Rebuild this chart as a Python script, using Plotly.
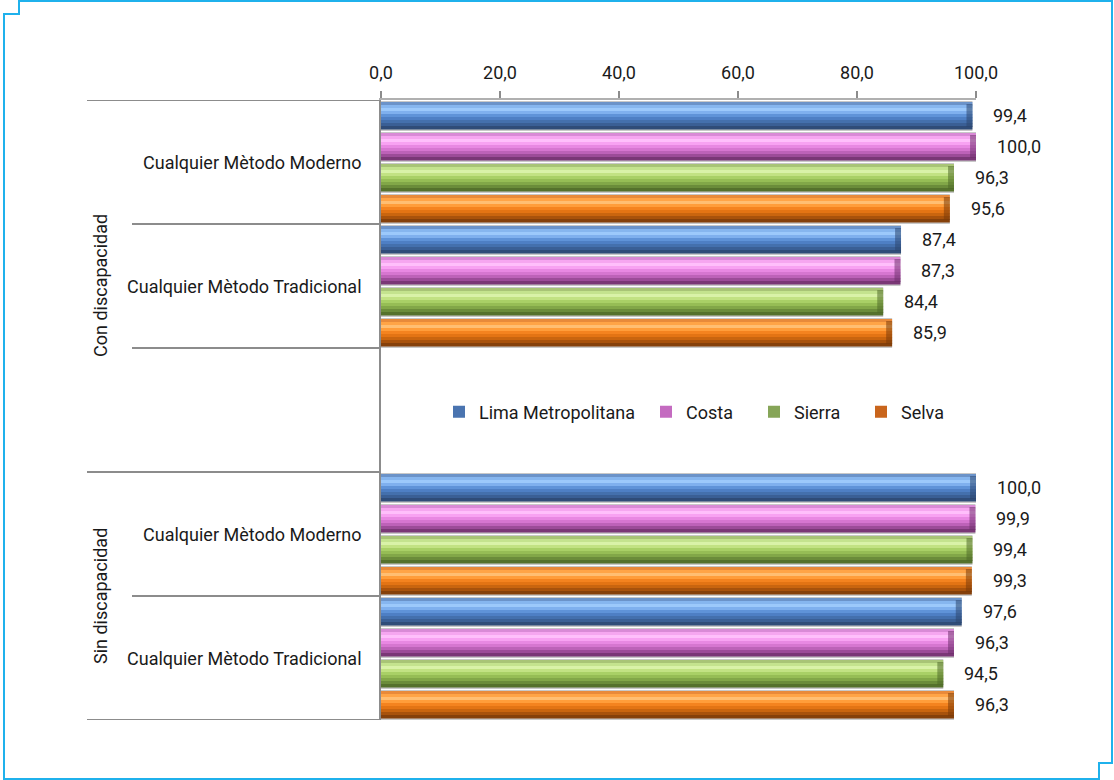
import plotly.graph_objects as go

# ---------------- data ----------------
categories = ["Cualquier Mètodo Moderno", "Cualquier Mètodo Tradicional", "",
              "Cualquier Mètodo Moderno", "Cualquier Mètodo Tradicional"]
groups = ["Con discapacidad", "Sin discapacidad"]
group_spans = [(0, 2), (3, 4)]          # category index ranges per group
bar_cats = [0, 1, 3, 4]                 # categories that hold bars

series_names = ["Lima Metropolitana", "Costa", "Sierra", "Selva"]
lima = [99.4, 87.4, 100.0, 97.6]
costa = [100.0, 87.3, 99.9, 96.3]
sierra = [96.3, 84.4, 99.4, 94.5]
selva = [95.6, 85.9, 99.3, 96.3]
series_values = [lima, costa, sierra, selva]

x_ticks = [0, 20, 40, 60, 80, 100]

# ---------------- styling ----------------
FONT = "Roboto, Liberation Sans, Arial, sans-serif"
FS = 18
TXT = "#1a1a1a"
GRAY = "#8c8c8c"
# gradient stops for each series, top -> bottom of the bar
gradients = [
    ["#6b93c9", "#86b6ef", "#9cc9fb", "#7fb0ee", "#5f93d8", "#4e7fc4", "#4470ad", "#3a5f95", "#2f4c78"],
    ["#d98ad6", "#f6a6f0", "#ffbffb", "#f8a2f2", "#e888e2", "#d676d0", "#bd62b8", "#9c4c98", "#7a3776"],
    ["#a8c476", "#c4e38e", "#d9f2a8", "#c2e283", "#a9d066", "#96bd55", "#82a748", "#6b8c3a", "#55712c"],
    ["#e88a3a", "#ffa446", "#ffbe72", "#ff9d3a", "#f4831f", "#e37414", "#c9650f", "#a8520c", "#85400a"],
]
legend_colors = ["#4a74b0", "#c46bc0", "#86a558", "#c9651c"]
cap_colors = ["#2c456d", "#6e2f6b", "#4f6a28", "#7a3a0a"]

W, H = 1114, 780
L, R, T, B = 381, 976, 100, 720
PW, PH = R - L, B - T
UNIT = PH / len(categories)       # px per category
SLOT = UNIT / 4                   # px per series bar slot
BAR = 27                          # bar thickness px
PAD = 2                           # px from slot top to bar top


def px2u(p):
    return p / UNIT


def px_x(p):
    return (p - L) / PW


def px_y(p):
    return (B - p) / PH


fig = go.Figure()

for i, (name, vals, grad) in enumerate(zip(series_names, series_values, gradients)):
    slot_top = -UNIT / 2 + i * SLOT + PAD
    # soft grey shadow behind the bar
    fig.add_trace(go.Bar(
        y=bar_cats, x=vals, orientation="h", width=px2u(BAR + 3),
        offset=px2u(slot_top - 1), marker=dict(color="#c8c8c8", line=dict(width=0)),
        showlegend=False, hoverinfo="skip"))
    # gradient bands
    nb = len(grad)
    band = BAR / nb
    for k, col in enumerate(grad):
        fig.add_trace(go.Bar(
            y=bar_cats, x=vals, orientation="h", width=px2u(band + 0.6),
            offset=px2u(slot_top + k * band), marker=dict(color=col, line=dict(width=0)),
            showlegend=False, hoverinfo="skip"))
    # dark rounded end cap
    fig.add_trace(go.Bar(
        y=bar_cats, x=[1.0] * len(vals), base=[v - 1.0 for v in vals], orientation="h",
        width=px2u(BAR - 4), offset=px2u(slot_top + 2),
        marker=dict(color=cap_colors[i], opacity=0.55, line=dict(width=0)),
        showlegend=False, hoverinfo="skip"))
    # legend entry (invisible data, same values)
    fig.add_trace(go.Bar(
        y=bar_cats, x=vals, orientation="h", width=px2u(BAR),
        offset=px2u(slot_top), name=name,
        marker=dict(color=legend_colors[i], opacity=0, line=dict(width=0)),
        legend=("legend" if i == 0 else f"legend{i + 1}"), showlegend=True,
        hovertemplate=name + ": %{x:.1f}<extra></extra>"))
    # value labels
    for c, v in zip(bar_cats, vals):
        ycenter = c + px2u(slot_top + BAR / 2)
        fig.add_annotation(x=v, y=ycenter, text=f"{v:.1f}".replace(".", ","),
                           showarrow=False, xanchor="left", yanchor="middle",
                           xshift=19, font=dict(family=FONT, size=FS, color=TXT))

# category labels
for c, lab in enumerate(categories):
    if lab:
        fig.add_annotation(x=px_x(364), xref="paper", y=c, yref="y", text=lab,
                           showarrow=False, xanchor="right", yanchor="middle",
                           font=dict(family=FONT, size=FS, color=TXT))

# group labels
for g, (a, b) in zip(groups, group_spans):
    fig.add_annotation(x=px_x(100), xref="paper", y=(a + b) / 2, yref="y", text=g,
                       textangle=-90, showarrow=False, xanchor="center", yanchor="middle",
                       font=dict(family=FONT, size=FS, color=TXT))

# divider lines
outer = set()
for a, b in group_spans:
    outer.add(a - 0.5)
    outer.add(b + 0.5)
for k in range(len(categories) + 1):
    yb = k - 0.5
    x0 = px_x(87) if yb in outer else px_x(132)
    fig.add_shape(type="line", xref="paper", yref="y", x0=x0, x1=0, y0=yb, y1=yb,
                  line=dict(color=GRAY, width=2))

# frame
fr = [(19, 1), (1112, 1), (1112, 763), (1099, 763), (1099, 779), (4, 779), (4, 14), (19, 14)]
path = "M " + " L ".join(f"{px_x(px):.5f},{px_y(py):.5f}" for px, py in fr) + " Z"
fig.add_shape(type="path", xref="paper", yref="paper", path=path,
              line=dict(color="#1fb1ec", width=2), layer="above")

legend_text_x = [479, 686, 794, 901]
legend_common = dict(orientation="h", yanchor="middle", y=px_y(412), xanchor="left",
                     font=dict(family=FONT, size=FS, color=TXT),
                     bgcolor="rgba(0,0,0,0)", borderwidth=0, itemwidth=30)
legends = {}
for i, tx in enumerate(legend_text_x):
    key = "legend" if i == 0 else f"legend{i + 1}"
    legends[key] = dict(legend_common, x=px_x(tx - 40))

fig.update_layout(
    width=W, height=H,
    margin=dict(l=L, r=W - R, t=T, b=H - B),
    paper_bgcolor="white", plot_bgcolor="white",
    barmode="overlay",
    separators=",.",
    font=dict(family=FONT, size=FS, color=TXT),
    xaxis=dict(side="top", range=[0, 100], tickvals=x_ticks, tickformat=".1f",
               showgrid=False, zeroline=False, showline=True, linecolor="#b0b0b0",
               linewidth=2, ticks="outside", ticklen=7, tickwidth=2, tickcolor=GRAY,
               ticklabelstandoff=5,
               tickfont=dict(family=FONT, size=FS, color=TXT)),
    yaxis=dict(range=[len(categories) - 0.5, -0.5], showticklabels=False,
               showgrid=False, zeroline=False, showline=True, linecolor=GRAY,
               linewidth=2, ticks=""),
    **legends,
)

fig.write_html("out.html", config={"displayModeBar": False},
               post_script="document.body.style.margin='0';")
